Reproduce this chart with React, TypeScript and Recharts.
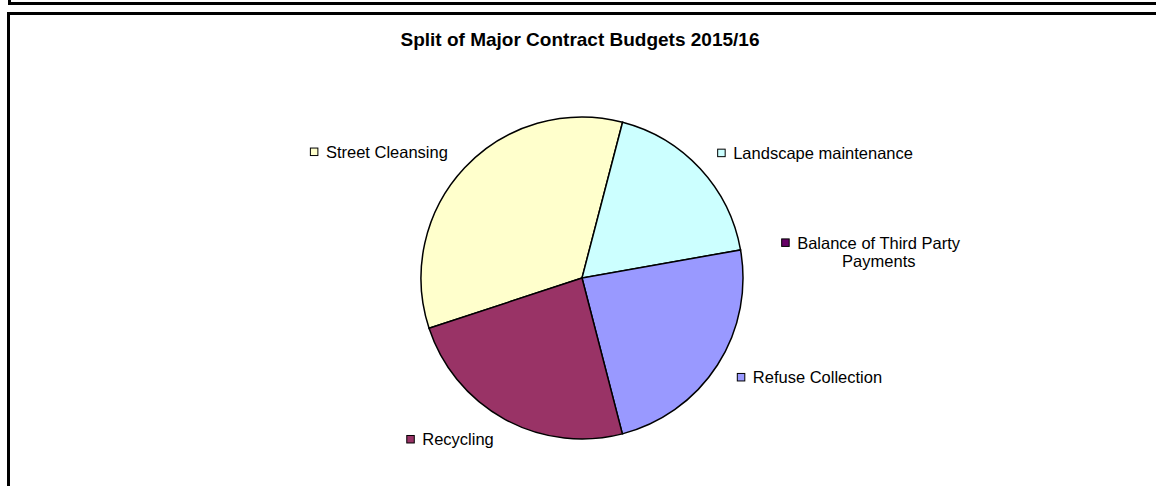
import { PieChart, Pie, Cell } from "recharts";

// slices in drawing order (clockwise from the Street Cleansing edge)
const categories = [
  "Street Cleansing",
  "Landscape maintenance",
  "Balance of Third Party Payments",
  "Refuse Collection",
  "Recycling",
];
const budgets = [34.1, 18.15, 0, 23.75, 23.97];
const sliceColors = ["#FFFFCC", "#CCFFFF", "#660066", "#9999FF", "#993366"];

const chartData = categories.map((name, i) => ({ name, value: budgets[i] }));

// label wrapping and the one label Excel pushed further out
const WRAP: Record<string, string[]> = {
  "Balance of Third Party Payments": ["Balance of Third Party", "Payments"],
};
const NUDGE: Record<string, { dx: number; dy: number }> = {
  "Balance of Third Party Payments": { dx: 18, dy: 6 },
};

const FONT = "Arial, 'Liberation Sans', sans-serif";
const LABEL_SIZE = 16.5;
const RADIAN = Math.PI / 180;

let ctx: CanvasRenderingContext2D | null = null;
function textWidth(s: string): number {
  if (!ctx) ctx = document.createElement("canvas").getContext("2d");
  if (!ctx) return s.length * LABEL_SIZE * 0.5;
  ctx.font = `${LABEL_SIZE}px Arial, 'Liberation Sans', sans-serif`;
  return ctx.measureText(s).width;
}

function SliceLabel(props: any) {
  const { cx, cy, midAngle, outerRadius, index } = props;
  const name = categories[index];
  const lines = WRAP[name] ?? [name];
  const nudge = NUDGE[name] ?? { dx: 0, dy: 0 };
  const r = outerRadius + 23;
  const cos = Math.cos(-midAngle * RADIAN);
  const sin = Math.sin(-midAngle * RADIAN);
  const px = cx + r * cos;
  const py = cy + r * sin;
  const textW = Math.max(...lines.map(textWidth));
  const boxW = 16 + textW;
  const left = (cos >= 0 ? px : px - boxW) + nudge.dx;
  const lineH = 18;
  const firstY = py - ((lines.length - 1) * lineH) / 2 + nudge.dy;
  return (
    <g>
      <rect
        x={left + 0.5}
        y={firstY - 4}
        width={7.5}
        height={7.5}
        fill={sliceColors[index]}
        stroke="#000"
        strokeWidth={1}
      />
      {lines.map((line, i) => (
        <text
          key={line}
          x={i === 0 ? left + 16 : left + 16 + textW / 2}
          y={firstY + i * lineH}
          textAnchor={i === 0 ? "start" : "middle"}
          dominantBaseline="central"
          fontSize={LABEL_SIZE}
          fontFamily={FONT}
          fill="#000"
        >
          {line}
        </text>
      ))}
    </g>
  );
}

export default function App() {
  return (
    <div
      style={{
        position: "fixed",
        left: 0,
        top: 0,
        width: 1156,
        height: 486,
        overflow: "hidden",
        background: "#fff",
      }}
    >
      {/* frame of the box above */}
      <div
        style={{
          position: "absolute",
          left: 8,
          top: -40,
          width: 1300,
          height: 45,
          boxSizing: "border-box",
          border: "3px solid #000",
        }}
      />
      {/* chart frame */}
      <div
        style={{
          position: "absolute",
          left: 7,
          top: 12,
          width: 1300,
          height: 600,
          boxSizing: "border-box",
          border: "3px solid #000",
        }}
      />
      <div
        style={{
          position: "absolute",
          left: 0,
          top: 29,
          width: 1160,
          textAlign: "center",
          fontFamily: FONT,
          fontWeight: "bold",
          fontSize: 19,
          lineHeight: "22px",
          color: "#000",
        }}
      >
        Split of Major Contract Budgets 2015/16
      </div>
      <div style={{ position: "absolute", left: 0, top: 0 }}>
        <PieChart
          width={1156}
          height={486}
          margin={{ top: 0, right: 0, bottom: 0, left: 0 }}
        >
          <Pie
            data={chartData}
            dataKey="value"
            nameKey="name"
            cx={582}
            cy={278}
            outerRadius={161}
            startAngle={198.2}
            endAngle={-161.8}
            stroke="#000"
            strokeWidth={1.5}
            label={SliceLabel}
            labelLine={false}
            isAnimationActive={false}
          >
            {chartData.map((entry, i) => (
              <Cell key={entry.name} fill={sliceColors[i]} />
            ))}
          </Pie>
        </PieChart>
      </div>
    </div>
  );
}
